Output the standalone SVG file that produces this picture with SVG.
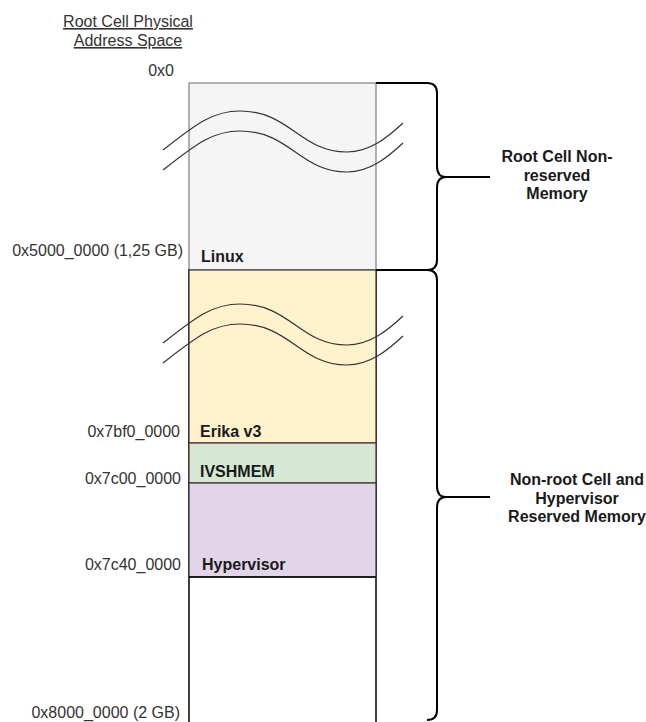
<svg xmlns="http://www.w3.org/2000/svg" width="646" height="722" viewBox="0 0 646 722">
<style>
.lbl{font-family:"Liberation Sans",Arial,sans-serif;font-size:16px;fill:#333}
.r{text-anchor:end}
.b{font-family:"Liberation Sans",Arial,sans-serif;font-size:16px;font-weight:bold;fill:#1a1a1a}
.c{text-anchor:middle}
.wave{fill:none;stroke:#333;stroke-width:1.2}
.brace{fill:none;stroke:#000;stroke-width:2}
</style>
<rect width="646" height="722" fill="#fff"/>
<g id="title">
<text class="lbl c" x="128" y="27" text-decoration="underline">Root Cell Physical</text>
<text class="lbl c" x="128" y="46" text-decoration="underline">Address Space</text>
</g>
<g id="column">
<rect x="189" y="270" width="187" height="460" fill="#fff" stroke="#000" stroke-width="1.5"/>
</g>
<g id="linux">
<rect x="189" y="83" width="187" height="187" fill="#f5f5f5" stroke="#666" stroke-width="1"/>
<text class="b" x="201" y="262">Linux</text>
</g>
<g id="erika">
<rect x="189" y="270" width="187" height="173" fill="#fff2cc" stroke="#333" stroke-width="1.2"/>
<text class="b" x="200" y="437">Erika v3</text>
</g>
<g id="ivshmem">
<rect x="189" y="443" width="187" height="40" fill="#d5e8d4" stroke="#5a2a3a" stroke-width="1.2"/>
<text class="b" x="200" y="477">IVSHMEM</text>
</g>
<g id="hypervisor">
<rect x="189" y="483" width="187" height="94" fill="#e1d5e7" stroke="#333" stroke-width="1.2"/>
<line x1="189" y1="577" x2="376" y2="577" stroke="#000" stroke-width="1.5"/>
<text class="b" x="202" y="570">Hypervisor</text>
</g>
<g id="waves">
<path class="wave" d="M163,150 C195,125 212,111 240,111 C290,111 300,152 347,152 C370,152 388,137 403,123"/>
<path class="wave" d="M163,170 C195,145 212,131 240,131 C290,131 300,172 347,172 C370,172 388,157 403,143"/>
<path class="wave" d="M163,343 C195,318 212,304 240,304 C290,304 300,345 347,345 C370,345 388,330 403,316"/>
<path class="wave" d="M163,363 C195,338 212,324 240,324 C290,324 300,365 347,365 C370,365 388,350 403,336"/>
</g>
<g id="addresses">
<text class="lbl r" x="174" y="76">0x0</text>
<text class="lbl r" x="183" y="256">0x5000_0000 (1,25 GB)</text>
<text class="lbl r" x="180" y="437">0x7bf0_0000</text>
<text class="lbl r" x="181" y="484">0x7c00_0000</text>
<text class="lbl r" x="181" y="570">0x7c40_0000</text>
<text class="lbl r" x="180" y="718">0x8000_0000 (2 GB)</text>
</g>
<g id="connectors">
<path class="brace" d="M376,83 H427 Q437,83 437,93 V166 Q437,177 446,177 Q437,177 437,188 V260 Q437,270 427,270 H376"/>
<line x1="444" y1="177" x2="490" y2="177" stroke="#000" stroke-width="2"/>
<path class="brace" d="M376,270 H427 Q437,270 437,280 V486 Q437,497 446,497 Q437,497 437,508 V710 Q437,720 427,720"/>
<line x1="444" y1="497" x2="490" y2="497" stroke="#000" stroke-width="2"/>
</g>
<g id="label-root">
<text class="b c" x="557" y="162">Root Cell Non-</text>
<text class="b c" x="557" y="181">reserved</text>
<text class="b c" x="557" y="199">Memory</text>
</g>
<g id="label-nonroot">
<text class="b c" x="577" y="485">Non-root Cell and</text>
<text class="b c" x="577" y="504">Hypervisor</text>
<text class="b c" x="577" y="522">Reserved Memory</text>
</g>
</svg>
